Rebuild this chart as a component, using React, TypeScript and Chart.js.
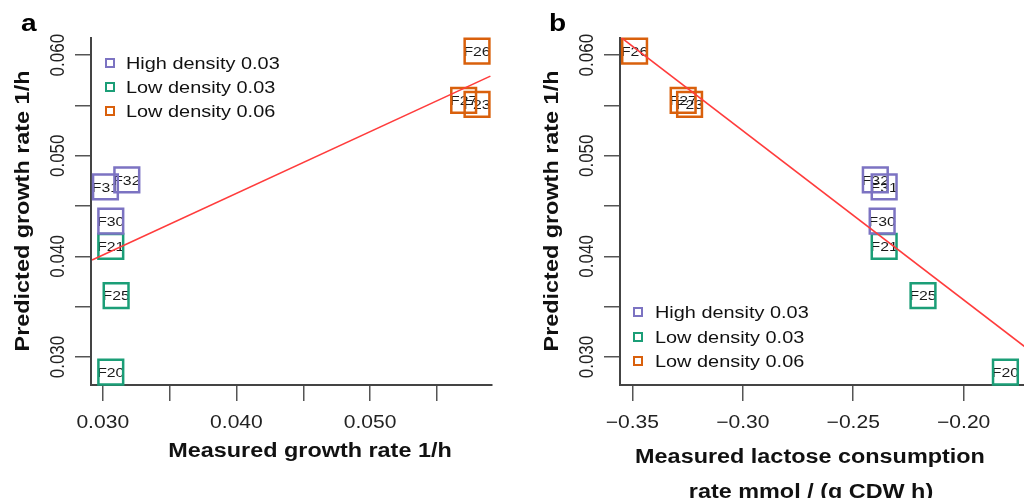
import React, { useEffect, useRef } from "react";
import { Chart, registerables } from "chart.js";

Chart.register(...registerables);

const FONT = "'Liberation Sans', Arial, Helvetica, sans-serif";
const STRETCH = 1.17;

// ---------- data ----------
const strainNames = ["F31", "F32", "F30", "F21", "F25", "F20", "F26", "F27", "F23"];
const strainGroup = [0, 0, 0, 1, 1, 1, 2, 2, 2];
const predictedGrowth = [0.0469, 0.0476, 0.0435, 0.041, 0.0361, 0.0285, 0.0604, 0.0555, 0.0551];
const measuredGrowth = [0.0302, 0.0318, 0.0306, 0.0306, 0.031, 0.0306, 0.058, 0.057, 0.058];
const measuredLactose = [-0.236, -0.24, -0.2369, -0.236, -0.2184, -0.1811, -0.349, -0.327, -0.3241];

const groupLabels = ["High density 0.03", "Low density 0.03", "Low density 0.06"];
const groupColors = ["#7c73c2", "#1b9e77", "#d9600c"];

const predictedTicks = [0.03, 0.035, 0.04, 0.045, 0.05, 0.055, 0.06];
const predictedTickLabels = ["0.030", "", "0.040", "", "0.050", "", "0.060"];
const growthTicks = [0.03, 0.035, 0.04, 0.045, 0.05, 0.055];
const growthTickLabels = ["0.030", "", "0.040", "", "0.050", ""];
const lactoseTicks = [-0.35, -0.3, -0.25, -0.2];
const lactoseTickLabels = ["\u22120.35", "\u22120.30", "\u22120.25", "\u22120.20"];

const predictedRange = [0.02722, 0.0617];
const growthRange = [0.02912, 0.05912];
const lactoseRange = [-0.3556, -0.16];

const growthFitX = [0.0292, 0.059];
const growthFitY = [0.03964, 0.05791];
const lactoseFitX = [-0.3556, -0.16];
const lactoseFitY = [0.06183, 0.02895];

const yTitle = "Predicted growth rate 1/h";

// ---------- panel layout ----------
interface PanelSpec {
  letter: string;
  canvasLeft: number;
  width: number;
  padding: { left: number; right: number; top: number; bottom: number };
  xs: number[];
  xRange: number[];
  xTicks: number[];
  xTickLabels: string[];
  fitX: number[];
  fitY: number[];
  letterPos: [number, number];
  yTickLabelX: number;
  xTickBaseline: number;
  xTitleLines: { text: string; x: number; y: number }[];
  yTitlePos: [number, number];
  legendMarkerX: number;
  legendTextX: number;
  legendRows: number[];
}

const leftSpec: PanelSpec = {
  letter: "a",
  canvasLeft: 0,
  width: 512,
  padding: { left: 75, right: 10, top: 38, bottom: 97 },
  xs: measuredGrowth,
  xRange: growthRange,
  xTicks: growthTicks,
  xTickLabels: growthTickLabels,
  fitX: growthFitX,
  fitY: growthFitY,
  letterPos: [21, 31],
  yTickLabelX: 64,
  xTickBaseline: 428,
  xTitleLines: [{ text: "Measured growth rate 1/h", x: 310, y: 457 }],
  yTitlePos: [29, 211],
  legendMarkerX: 110,
  legendTextX: 126,
  legendRows: [63, 87, 111],
};

const rightSpec: PanelSpec = {
  letter: "b",
  canvasLeft: 512,
  width: 560,
  padding: { left: 92, right: 8, top: 38, bottom: 97 },
  xs: measuredLactose,
  xRange: lactoseRange,
  xTicks: lactoseTicks,
  xTickLabels: lactoseTickLabels,
  fitX: lactoseFitX,
  fitY: lactoseFitY,
  letterPos: [549, 31],
  yTickLabelX: 593,
  xTickBaseline: 428,
  xTitleLines: [
    { text: "Measured lactose consumption", x: 810, y: 463 },
    { text: "rate mmol / (g CDW h)", x: 811, y: 498 },
  ],
  yTitlePos: [558, 211],
  legendMarkerX: 638,
  legendTextX: 655,
  legendRows: [312, 337, 361],
};

function drawText(
  ctx: CanvasRenderingContext2D,
  text: string,
  x: number,
  y: number,
  font: string,
  align: CanvasTextAlign,
  color: string,
  rotate = false,
  sx = STRETCH,
  sy = 1
) {
  ctx.save();
  ctx.translate(x, y);
  ctx.scale(sx, sy);
  if (rotate) ctx.rotate(-Math.PI / 2);
  ctx.font = font;
  ctx.textAlign = align;
  ctx.textBaseline = "alphabetic";
  ctx.fillStyle = color;
  ctx.fillText(text, 0, 0);
  ctx.restore();
}

function makeTextPlugin(spec: PanelSpec) {
  const off = spec.canvasLeft;
  return {
    id: "panelText" + spec.letter,
    beforeDatasetsDraw(chart: any) {
      const ctx: CanvasRenderingContext2D = chart.ctx;
      const xs = chart.scales.x;
      const ys = chart.scales.y;
      strainNames.forEach((name, i) => {
        const px = xs.getPixelForValue(spec.xs[i]);
        const py = ys.getPixelForValue(predictedGrowth[i]);
        drawText(ctx, name, px, py + 4.8, `13.5px ${FONT}`, "center", "#1a1a1a");
      });
    },
    afterDraw(chart: any) {
      const ctx: CanvasRenderingContext2D = chart.ctx;
      const xs = chart.scales.x;
      const ys = chart.scales.y;
      // y tick labels
      predictedTicks.forEach((v, i) => {
        const lbl = predictedTickLabels[i];
        if (!lbl) return;
        drawText(ctx, lbl, spec.yTickLabelX - off, ys.getPixelForValue(v), `17px ${FONT}`, "center", "#222", true);
      });
      // x tick labels
      spec.xTicks.forEach((v, i) => {
        const lbl = spec.xTickLabels[i];
        if (!lbl) return;
        drawText(ctx, lbl, xs.getPixelForValue(v), spec.xTickBaseline, `18px ${FONT}`, "center", "#222");
      });
      // axis titles
      spec.xTitleLines.forEach((l) => {
        drawText(ctx, l.text, l.x - off, l.y, `bold 20px ${FONT}`, "center", "#111");
      });
      drawText(ctx, yTitle, spec.yTitlePos[0] - off, spec.yTitlePos[1], `bold 20px ${FONT}`, "center", "#111", true, 1, STRETCH);
      // panel letter
      drawText(ctx, spec.letter, spec.letterPos[0] - off, spec.letterPos[1], `bold 24px ${FONT}`, "left", "#000");
      // legend
      groupLabels.forEach((g, gi) => {
        const y = spec.legendRows[gi];
        ctx.save();
        ctx.strokeStyle = groupColors[gi];
        ctx.lineWidth = 2;
        ctx.strokeRect(spec.legendMarkerX - off - 4, y - 4, 8, 8);
        ctx.restore();
        drawText(ctx, g, spec.legendTextX - off, y + 6, `17px ${FONT}`, "left", "#111");
      });
    },
  };
}

function buildConfig(spec: PanelSpec): any {
  const datasets: any[] = [
    {
      label: "fit",
      data: spec.fitX.map((x, i) => ({ x, y: spec.fitY[i] })),
      showLine: true,
      borderColor: "#ff3c3c",
      borderWidth: 1.6,
      pointRadius: 0,
      pointHoverRadius: 0,
      clip: 0,
      order: 0,
    },
  ];
  groupLabels.forEach((g, gi) => {
    const idx = strainNames.map((_, i) => i).filter((i) => strainGroup[i] === gi);
    datasets.push({
      label: g,
      data: idx.map((i) => ({ x: spec.xs[i], y: predictedGrowth[i] })),
      showLine: false,
      pointStyle: "rect",
      pointRadius: 17.5,
      pointHoverRadius: 17.5,
      pointBorderWidth: 2.5,
      pointHoverBorderWidth: 2.5,
      pointBorderColor: groupColors[gi],
      pointBackgroundColor: "rgba(0,0,0,0)",
      clip: false,
      order: 1,
    });
  });
  const grid = {
    drawOnChartArea: false,
    drawTicks: true,
    tickLength: 16,
    color: "#555",
    lineWidth: 1.5,
  };
  const border = { display: true, color: "#444", width: 2 };
  return {
    type: "scatter",
    data: { datasets },
    options: {
      responsive: false,
      maintainAspectRatio: false,
      animation: false,
      events: [],
      layout: { padding: spec.padding },
      plugins: {
        legend: { display: false },
        tooltip: { enabled: false },
        title: { display: false },
      },
      scales: {
        x: {
          type: "linear",
          position: "bottom",
          min: spec.xRange[0],
          max: spec.xRange[1],
          afterBuildTicks: (s: any) => {
            s.ticks = spec.xTicks.map((v) => ({ value: v }));
          },
          afterFit: (s: any) => {
            s.height = 16;
          },
          ticks: { display: false },
          grid,
          border,
          title: { display: false },
        },
        y: {
          type: "linear",
          position: "left",
          min: predictedRange[0],
          max: predictedRange[1],
          afterBuildTicks: (s: any) => {
            s.ticks = predictedTicks.map((v) => ({ value: v }));
          },
          afterFit: (s: any) => {
            s.width = 16;
          },
          ticks: { display: false },
          grid,
          border,
          title: { display: false },
        },
      },
    },
    plugins: [makeTextPlugin(spec)],
  };
}

function Panel({ spec }: { spec: PanelSpec }) {
  const ref = useRef<HTMLCanvasElement>(null);
  useEffect(() => {
    const chart = new Chart(ref.current as HTMLCanvasElement, buildConfig(spec));
    return () => chart.destroy();
  }, [spec]);
  return (
    <canvas
      ref={ref}
      width={spec.width}
      height={498}
      style={{ position: "absolute", left: spec.canvasLeft, top: 0, width: spec.width, height: 498 }}
    />
  );
}

export default function App() {
  return (
    <div
      style={{
        position: "absolute",
        left: 0,
        top: 0,
        width: 1024,
        height: 498,
        overflow: "hidden",
        background: "#fff",
      }}
    >
      <Panel spec={leftSpec} />
      <Panel spec={rightSpec} />
    </div>
  );
}
